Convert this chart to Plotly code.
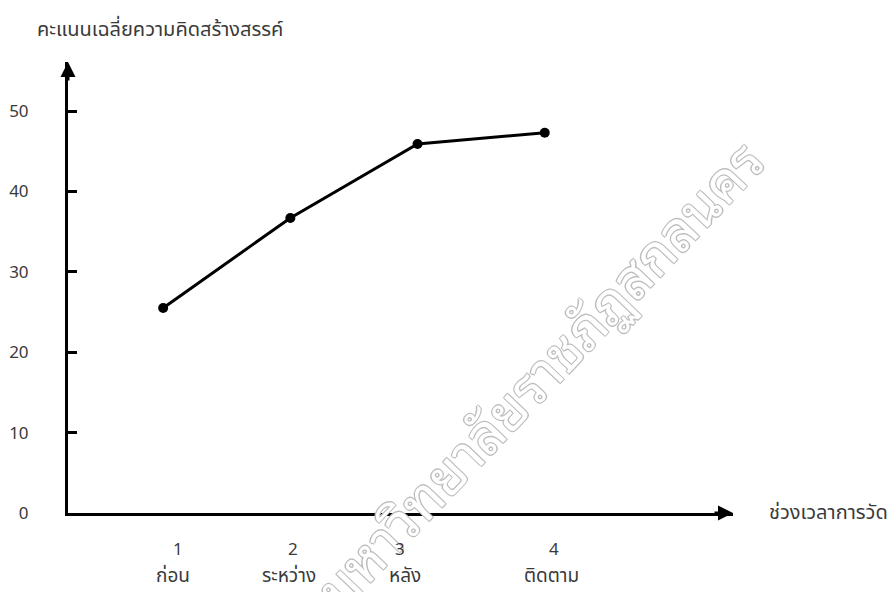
import plotly.graph_objects as go

# Data
x_vals = [1, 2, 3, 4]
scores = [25.5, 36.7, 45.9, 47.3]
x_tick_numbers = ["1", "2", "3", "4"]
phase_names = ["ก่อน", "ระหว่าง", "หลัง", "ติดตาม"]
y_ticks = [0, 10, 20, 30, 40, 50]
y_title = "คะแนนเฉลี่ยความคิดสร้างสรรค์"
x_title = "ช่วงเวลาการวัด"
watermark = "มหาวิทยาลัยราชภัฏสกลนคร"

# Layout (pixel geometry)
W, H = 890, 592
ML, MR, MT, MB = 68, W - 733, 62, H - 513
pw, ph = W - ML - MR, H - MT - MB
number_xshift = [15, 3, -18, 9]   # hand-placed label offsets in the original
name_xshift = [10, -1, -13, 7]

FONT = "Noto Sans Thai, Tahoma, Loma, Garuda, sans-serif"
WM_FONT = "Noto Sans Thai Looped, Noto Serif Thai, Garuda, Loma, Kinnari, Norasi, sans-serif"
TXT = "#3a3a3a"
THAI_SIZE = 20

fig = go.Figure()
fig.add_trace(go.Scatter(
    x=x_vals, y=scores, mode="lines+markers",
    line=dict(color="black", width=3),
    marker=dict(color="black", size=10, symbol="circle"),
    showlegend=False, hoverinfo="skip",
))

fig.update_layout(
    width=W, height=H,
    margin=dict(l=ML, r=MR, t=MT, b=MB, autoexpand=False),
    paper_bgcolor="white", plot_bgcolor="white",
    font=dict(family=FONT, color=TXT, size=17),
    xaxis=dict(
        range=[0.252, 5.48], showgrid=False, zeroline=False,
        showline=True, linecolor="black", linewidth=3,
        tickvals=x_vals, ticks="", showticklabels=False,
    ),
    yaxis=dict(
        range=[0, 56.1], showgrid=False, zeroline=False,
        showline=True, linecolor="black", linewidth=3,
        tickvals=y_ticks, ticks="inside", ticklen=9, tickwidth=3,
        tickcolor="black", ticklabelstandoff=33,
        tickfont=dict(size=17, color=TXT),
    ),
)

# Watermark (first, so other texts are drawn above it)
fig.add_annotation(x=(536 - ML) / pw, y=(H - MB - 372) / ph,
                   xref="paper", yref="paper", text=watermark,
                   showarrow=False, textangle=-46.5,
                   xanchor="center", yanchor="middle",
                   font=dict(size=55, color="white", family=WM_FONT,
                             shadow="1px 1px 0 #bdbdbd, -1px -1px 0 #bdbdbd, "
                                    "1px -1px 0 #bdbdbd, -1px 1px 0 #bdbdbd"))

# Category numbers and phase names under the x axis
for xv, num, name, dn, dm in zip(x_vals, x_tick_numbers, phase_names,
                                 number_xshift, name_xshift):
    fig.add_annotation(x=xv, y=0, xref="x", yref="y", text=num,
                       showarrow=False, yshift=-37, xshift=dn,
                       xanchor="center", yanchor="middle",
                       font=dict(size=17, color=TXT))
    fig.add_annotation(x=xv, y=0, xref="x", yref="y", text=name,
                       showarrow=False, yshift=-63, xshift=dm,
                       xanchor="center", yanchor="middle",
                       font=dict(size=19, color=TXT))

# Axis arrows
fig.add_annotation(x=1, y=0, xref="paper", yref="y", ax=-20, ay=0,
                   showarrow=True, arrowhead=2, arrowsize=1, arrowwidth=3,
                   arrowcolor="black", text="")
fig.add_annotation(x=0, y=1, xref="paper", yref="paper", ax=0, ay=20,
                   showarrow=True, arrowhead=2, arrowsize=1, arrowwidth=3,
                   arrowcolor="black", text="")

# Axis titles
fig.add_annotation(x=(35 - ML) / pw, y=(H - MB - 30) / ph,
                   xref="paper", yref="paper", text=y_title,
                   showarrow=False, xanchor="left", yanchor="middle",
                   font=dict(size=THAI_SIZE, color=TXT))
fig.add_annotation(x=1, y=0, xref="paper", yref="y", text=x_title,
                   showarrow=False, xanchor="left", yanchor="middle",
                   xshift=34, font=dict(size=THAI_SIZE, color=TXT))

fig.write_html("out.html", config={"displayModeBar": False},
               post_script="document.body.style.margin='0';")
